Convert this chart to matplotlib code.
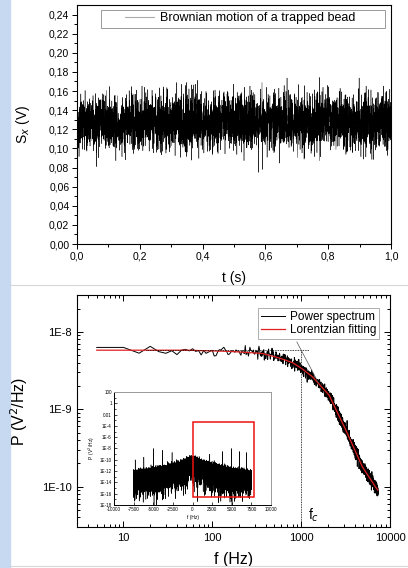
import numpy as np
import matplotlib
matplotlib.use('Agg')
import matplotlib.pyplot as plt
from matplotlib.lines import Line2D
from matplotlib.patches import Rectangle
from matplotlib.ticker import FixedLocator, FixedFormatter, LogLocator, NullFormatter

plt.rcParams['font.family'] = ['Liberation Sans', 'DejaVu Sans']

# --- top panel: bead position signal ---
trace_mean = 0.128      # centre of the noisy band (V)
trace_spread = 0.0145   # spread of the band (V)
trace_n = 4000
rng = np.random.default_rng(7)
t = np.linspace(0, 1.0, trace_n)
sx = trace_mean + trace_spread * rng.standard_normal(trace_n)

sx_ticks = [0.00, 0.02, 0.04, 0.06, 0.08, 0.10, 0.12, 0.14, 0.16, 0.18, 0.20, 0.22, 0.24]
sx_labels = ['0,00', '0,02', '0,04', '0,06', '0,08', '0,10', '0,12', '0,14', '0,16', '0,18', '0,20', '0,22', '0,24']
t_ticks = [0.0, 0.2, 0.4, 0.6, 0.8, 1.0]
t_labels = ['0,0', '0,2', '0,4', '0,6', '0,8', '1,0']

# --- bottom panel: power spectrum and Lorentzian fit ---
fit_f = [5, 50, 155, 367, 566, 800, 1000, 1340, 2063, 3178, 4887, 6900, 7300]
fit_p = [5.8e-9, 5.8e-9, 5.6e-9, 5.26e-9, 4.6e-9, 4.0e-9, 3.4e-9, 2.63e-9,
         1.52e-9, 5.4e-10, 1.8e-10, 9.8e-11, 9.0e-11]
spec_f = np.arange(5, 7305, 5)
spec_noise = 0.09
spec_p = np.exp(np.interp(np.log(spec_f), np.log(fit_f), np.log(fit_p)))
spec_p = spec_p * np.exp(spec_noise * rng.standard_normal(len(spec_f)))
spec_p[:2] = [6.3e-9, 6.3e-9]
spike_f, spike_p = 5800, 1.6e-10
spec_p[np.argmin(abs(spec_f - spike_f))] = spike_p

fc = 1000
plateau_f = [18, 1230]
plateau_p = [5.9e-9, 5.9e-9]
slope_f = [895, 1564]
slope_p = [7.4e-9, 2.2e-9]

p_ticks = [1e-10, 1e-9, 1e-8]
p_labels = ['1E-10', '1E-9', '1E-8']
f_ticks = [10, 100, 1000, 10000]
f_labels = ['10', '100', '1000', '10000']

# --- inset: two-sided raw spectrum (level of the black band, log10) ---
inset_env_f = [0, 1000, 2500, 5000, 7500]
inset_env_top = [-9.2, -9.9, -10.6, -11.4, -11.9]
inset_f = np.arange(-7500, 7501, 1)
inset_top = np.interp(abs(inset_f), inset_env_f, inset_env_top)
inset_p = 10 ** (inset_top - 1.1 + 1.7 * np.log10(rng.exponential(1.0, len(inset_f))))
inset_spike_f = [-7300, -6200, -5000, -3800, -2600, 2200, 3800, 5000, 6000, 6900]
inset_spike_p = [1e-10, 3e-10, 1e-8, 5e-9, 2e-9, 1e-9, 3e-9, 1e-8, 3e-9, 2e-9]
for sf, sp in zip(inset_spike_f, inset_spike_p):
    inset_p[np.argmin(abs(inset_f - sf))] = sp
inset_y_ticks = [1e2, 1, 1e-2, 1e-4, 1e-6, 1e-8, 1e-10, 1e-12, 1e-14, 1e-16, 1e-18]
inset_y_labels = ['100', '1', '0.01', '1E-4', '1E-6', '1E-8', '1E-10', '1E-12', '1E-14', '1E-16', '1E-18']
inset_x_ticks = [-10000, -7500, -5000, -2500, 0, 2500, 5000, 7500, 10000]
inset_x_labels = ['-10000', '-7500', '-5000', '-2500', '0', '2500', '5000', '7500', '10000']
box_f = [0, 7800]
box_p = [3e-17, 4e-4]

fig = plt.figure(figsize=(4.08, 5.68), dpi=100)

# page decorations: blue strip on the left, grey separators
fig.add_artist(Rectangle((0, 0), 10 / 408, 1, transform=fig.transFigure, color='#c6d9f1', zorder=0))
fig.add_artist(Line2D([10 / 408, 1], [1 - 285 / 568] * 2, transform=fig.transFigure, color='#d8d8d8', lw=0.8))
fig.add_artist(Line2D([10 / 408, 1], [1 - 566 / 568] * 2, transform=fig.transFigure, color='#d8d8d8', lw=0.8))

# top panel
ax1 = fig.add_axes([77 / 408, 1 - 244 / 568, 314 / 408, 239 / 568])
ax1.plot(t, sx, color='black', lw=0.3, label='Brownian motion of a trapped bead')
ax1.set_xlim(0, 1.0)
ax1.set_ylim(0, 0.25)
ax1.yaxis.set_major_locator(FixedLocator(sx_ticks))
ax1.yaxis.set_major_formatter(FixedFormatter(sx_labels))
ax1.xaxis.set_major_locator(FixedLocator(t_ticks))
ax1.xaxis.set_major_formatter(FixedFormatter(t_labels))
ax1.yaxis.set_minor_locator(FixedLocator(np.arange(0.01, 0.25, 0.02)))
ax1.xaxis.set_minor_locator(FixedLocator([0.1, 0.3, 0.5, 0.7, 0.9]))
ax1.tick_params(which='both', direction='out', labelsize=7.5, width=0.7, pad=2)
ax1.tick_params(which='major', length=3.5)
ax1.tick_params(which='minor', length=2)
ax1.set_ylabel('S$_x$ (V)', fontsize=10)
ax1.set_xlabel('t (s)', fontsize=10)
ax1.yaxis.set_label_coords(-0.143, 0.5)
ax1.xaxis.set_label_coords(0.5, -0.113)
for s in ax1.spines.values():
    s.set_linewidth(0.8)
# legend frame drawn separately (Origin style, wider than its content)
ax1.add_patch(Rectangle((0.076, 0.904), 0.905, 0.075, transform=ax1.transAxes,
                        fill=False, edgecolor='#999999', lw=0.7, zorder=6))
ax1.add_patch(Rectangle((0.076, 0.904), 0.905, 0.075, transform=ax1.transAxes,
                        facecolor='white', edgecolor='none', zorder=4))
leg1 = ax1.legend(loc='upper right', bbox_to_anchor=(0.9, 0.985), borderaxespad=0,
                  fontsize=9, frameon=False, handlelength=2.3, handletextpad=0.5,
                  borderpad=0.3)
leg1.set_zorder(7)
leg1.get_lines()[0].set_color('#aaaaaa')
leg1.get_lines()[0].set_linewidth(0.8)

# bottom panel
ax2 = fig.add_axes([77 / 408, 1 - 527 / 568, 313 / 408, 232 / 568])
ax2.plot(spec_f, spec_p, color='black', lw=0.7, label='Power spectrum')
ax2.plot(fit_f, fit_p, color='#e02020', lw=0.9, label='Lorentzian fitting')
ax2.plot(plateau_f, plateau_p, color='black', lw=0.6, ls=(0, (1, 1)))
ax2.plot([fc, fc], [5.9e-9, 3e-11], color='black', lw=0.6, ls=(0, (1, 1)))
ax2.plot(slope_f, slope_p, color='#555555', lw=0.5)
ax2.set_xscale('log')
ax2.set_yscale('log')
ax2.set_xlim(3, 10000)
ax2.set_ylim(3e-11, 3e-8)
ax2.yaxis.set_major_locator(FixedLocator(p_ticks))
ax2.yaxis.set_major_formatter(FixedFormatter(p_labels))
ax2.xaxis.set_major_locator(FixedLocator(f_ticks))
ax2.xaxis.set_major_formatter(FixedFormatter(f_labels))
ax2.xaxis.set_minor_locator(LogLocator(base=10, subs=np.arange(2, 10), numticks=20))
ax2.yaxis.set_minor_locator(LogLocator(base=10, subs=np.arange(2, 10), numticks=20))
ax2.xaxis.set_minor_formatter(NullFormatter())
ax2.yaxis.set_minor_formatter(NullFormatter())
ax2.tick_params(which='both', direction='in', top=True, right=True, labelsize=8, width=0.7, pad=4)
ax2.tick_params(which='major', length=4)
ax2.tick_params(which='minor', length=2)
ax2.set_ylabel('P (V$^2$/Hz)', fontsize=11.5)
ax2.set_xlabel('f (Hz)', fontsize=11.5)
ax2.yaxis.set_label_coords(-0.15, 0.5)
ax2.xaxis.set_label_coords(0.5, -0.108)
ax2.text(1200, 4.2e-11, 'f$_c$', fontsize=10, va='center')
for s in ax2.spines.values():
    s.set_linewidth(0.8)
leg2 = ax2.legend(loc='upper right', bbox_to_anchor=(0.965, 0.945), borderaxespad=0,
                  fontsize=8.5, fancybox=False, edgecolor='#999999', handlelength=2.0,
                  handletextpad=0.4, borderpad=0.25, labelspacing=0.15)
leg2.get_frame().set_linewidth(0.7)

# inset
ax3 = fig.add_axes([114 / 408, 1 - 505 / 568, 157 / 408, 113 / 568])
ax3.plot(inset_f, inset_p, color='black', lw=0.35)
ax3.add_patch(Rectangle((box_f[0], box_p[0]), box_f[1] - box_f[0], box_p[1] - box_p[0],
                        fill=False, edgecolor='#ee1111', lw=1.1, zorder=5))
ax3.set_yscale('log')
ax3.set_xlim(-10000, 10000)
ax3.set_ylim(1e-18, 1e2)
ax3.yaxis.set_major_locator(FixedLocator(inset_y_ticks))
ax3.yaxis.set_major_formatter(FixedFormatter(inset_y_labels))
ax3.xaxis.set_major_locator(FixedLocator(inset_x_ticks))
ax3.xaxis.set_major_formatter(FixedFormatter(inset_x_labels))
ax3.yaxis.set_minor_locator(FixedLocator([1e1, 1e-1, 1e-3, 1e-5, 1e-7, 1e-9, 1e-11, 1e-13, 1e-15, 1e-17]))
ax3.yaxis.set_minor_formatter(NullFormatter())
ax3.tick_params(which='both', direction='in', labelsize=3.3, width=0.5, pad=1.5)
ax3.tick_params(which='major', length=2)
ax3.tick_params(which='minor', length=1.2)
ax3.set_ylabel('P  (V$^2$/Hz)', fontsize=3.5, labelpad=2)
ax3.set_xlabel('f (Hz)', fontsize=3.5, labelpad=2)
ax3.spines['top'].set_color('#999999')
ax3.spines['right'].set_color('#999999')
for s in ax3.spines.values():
    s.set_linewidth(0.7)

fig.savefig('out.png', dpi=100)
